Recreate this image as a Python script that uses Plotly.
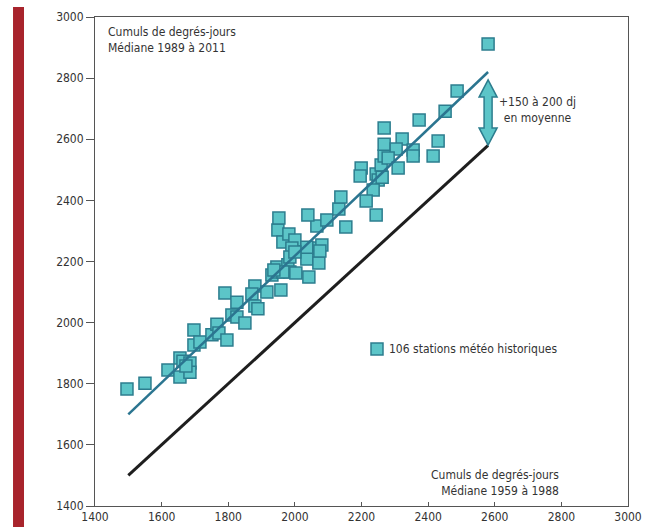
import plotly.graph_objects as go

# Station values (degree-days): median 1959-1988 (x) vs median 1989-2011 (y)
x_1959_1988 = [1496, 1550, 1619, 1655, 1655, 1664, 1685, 1685, 1697, 1697,
               1715, 1751, 1766, 1772, 1796, 1790, 1826, 1811, 1826, 1850,
               1880, 1871, 1916, 1958, 1880, 1889, 1931, 1946, 1949, 1979,
               1985, 2003, 2042, 2036, 1949, 1964, 1982, 2000, 2036, 2066,
               2072, 2072, 1952, 1991, 2081, 2039, 2096, 2132, 2138, 2153,
               2199, 2196, 2244, 2250, 2235, 2214, 2244, 2259, 2268, 2487,
               2451, 2373, 2268, 2268, 2322, 2430, 2304, 2355, 2355, 2415,
               2280, 2310, 2262, 2580, 1985, 2000, 2075, 1964, 1937, 1673]
y_1989_2011 = [1783, 1802, 1845, 1822, 1884, 1874, 1868, 1838, 1976, 1927,
               1937, 1960, 1995, 1966, 1943, 2097, 2067, 2025, 2018, 1999,
               2120, 2094, 2100, 2107, 2054, 2045, 2156, 2182, 2166, 2189,
               2166, 2162, 2149, 2208, 2303, 2264, 2290, 2270, 2247, 2316,
               2244, 2195, 2342, 2244, 2254, 2352, 2336, 2372, 2411, 2313,
               2506, 2480, 2486, 2467, 2434, 2398, 2352, 2516, 2545, 2758,
               2692, 2663, 2637, 2584, 2601, 2594, 2568, 2565, 2545, 2545,
               2539, 2506, 2476, 2912, 2215, 2231, 2234, 2166, 2172, 1858]

# Trend line (1989-2011) and reference line (no change)
trend_x = [1500, 2580]
trend_y = [1700, 2820]
ref_x = [1500, 2580]
ref_y = [1500, 2580]

# Arrow between the two lines (gap)
arrow_x = 2580
arrow_y_low = 2581
arrow_y_high = 2794

x_ticks = [1400, 1600, 1800, 2000, 2200, 2400, 2600, 2800, 3000]
y_ticks = [1400, 1600, 1800, 2000, 2200, 2400, 2600, 2800, 3000]

legend_label = "106 stations météo historiques"
y_title = "Cumuls de degrés-jours<br>Médiane 1989 à 2011"
x_title = "Cumuls de degrés-jours<br>Médiane 1959 à 1988"
arrow_label = "+150 à 200 dj<br>en moyenne"

FONT = "Liberation Sans Narrow, DejaVu Sans Condensed, Arial Narrow, sans-serif"
TEAL_FILL = "#5cc5c8"
TEAL_EDGE = "#2c7d8e"
TREND_COL = "#2b7590"

fig = go.Figure()

fig.add_trace(go.Scatter(x=ref_x, y=ref_y, mode="lines",
                         line=dict(color="#1e1e1e", width=3),
                         showlegend=False, hoverinfo="skip"))
fig.add_trace(go.Scatter(x=x_1959_1988, y=y_1989_2011, mode="markers",
                         marker=dict(symbol="square", size=12, color=TEAL_FILL,
                                     line=dict(color=TEAL_EDGE, width=1.5)),
                         name="", showlegend=True))
fig.add_trace(go.Scatter(x=trend_x, y=trend_y, mode="lines",
                         line=dict(color=TREND_COL, width=2.5),
                         showlegend=False, hoverinfo="skip"))

# double-headed fat arrow as a path in data coordinates
hw_head, hw_shaft, head_h = 27, 12, 56
ax = arrow_x
yl, yh = arrow_y_low, arrow_y_high
pts = [
    (ax, yh),
    (ax + hw_head, yh - head_h),
    (ax + hw_shaft, yh - head_h),
    (ax + hw_shaft, yl + head_h),
    (ax + hw_head, yl + head_h),
    (ax, yl),
    (ax - hw_head, yl + head_h),
    (ax - hw_shaft, yl + head_h),
    (ax - hw_shaft, yh - head_h),
    (ax - hw_head, yh - head_h),
]
path = "M " + " L ".join(f"{px},{py}" for px, py in pts) + " Z"

shapes = [
    dict(type="path", path=path, xref="x", yref="y",
         fillcolor=TEAL_FILL, line=dict(color=TEAL_EDGE, width=1.5)),
    # red bar on the left
    dict(type="rect", xref="paper", yref="paper",
         x0=-0.1538, x1=-0.1332, y0=-0.05, y1=1.0204,
         fillcolor="#a8242c", line=dict(width=0), layer="below"),
]

annotations = [
    dict(text=y_title, xref="paper", yref="paper", x=0.021, y=0.988,
         xanchor="left", yanchor="top", align="left", showarrow=False,
         font=dict(family=FONT, size=12, color="#333333")),
    dict(text=x_title, xref="paper", yref="paper", x=0.874, y=0.012,
         xanchor="right", yanchor="bottom", align="right", showarrow=False,
         font=dict(family=FONT, size=12, color="#333333")),
    dict(text=arrow_label, xref="paper", yref="paper", x=0.831, y=0.81,
         xanchor="center", yanchor="middle", align="center", showarrow=False,
         font=dict(family=FONT, size=12, color="#333333")),
    dict(text=legend_label, xref="paper", yref="paper", x=(387 - 95) / 533,
         y=(506 - 349) / 489, xanchor="left", yanchor="middle", showarrow=False,
         font=dict(family=FONT, size=12, color="#333333")),
]

fig.update_layout(
    width=645, height=527,
    margin=dict(l=95, r=17, t=17, b=21, autoexpand=False),
    paper_bgcolor="white", plot_bgcolor="white",
    font=dict(family=FONT, size=12, color="#333333"),
    shapes=shapes, annotations=annotations,
    showlegend=True,
    legend=dict(x=(357 - 95) / 533, y=(506 - 349) / 489, xanchor="left", yanchor="middle",
                bgcolor="rgba(0,0,0,0)", borderwidth=0, font=dict(size=12)),
    xaxis=dict(range=[1400, 3000], tickvals=x_ticks, ticktext=[str(v) for v in x_ticks],
               showgrid=False, zeroline=False, showline=True, linecolor="#555555",
               linewidth=1, mirror=True, ticks="inside", ticklen=4, tickcolor="#555555",
               automargin=False,
               tickfont=dict(family=FONT, size=12, color="#333333")),
    yaxis=dict(range=[1400, 3000], tickvals=y_ticks, ticktext=[str(v) for v in y_ticks],
               showgrid=False, zeroline=False, showline=True, linecolor="#555555",
               linewidth=1, mirror=True, ticks="outside", ticklen=8, tickcolor="#555555",
               automargin=False,
               tickfont=dict(family=FONT, size=12, color="#333333")),
)

fig.write_html("out.html",
               config={"displayModeBar": False},
               post_script="document.body.style.margin='0';document.body.style.overflow='hidden';")
